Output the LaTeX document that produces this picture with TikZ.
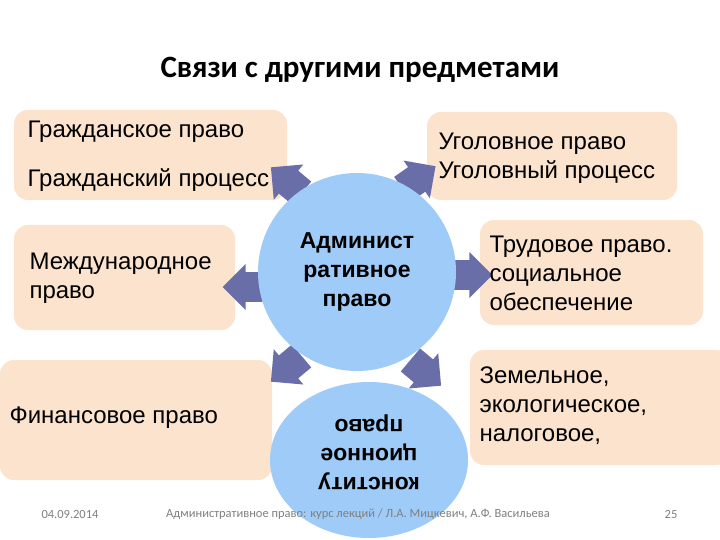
\documentclass[tikz,border=0pt]{standalone}
\usepackage{fontspec}
\setmainfont{Liberation Sans}
\newfontfamily\calib{Carlito}
\usetikzlibrary{shapes.arrows}
\definecolor{peach}{HTML}{FBE3CD}
\definecolor{circ}{HTML}{9ECBF7}
\definecolor{arr}{HTML}{6A6EA8}
\begin{document}
\begin{tikzpicture}[x=1pt,y=-1pt,
  box/.style={fill=peach,rounded corners=14pt,draw=none},
  txt/.style={font=\fontsize{24}{29}\selectfont,align=left,anchor=west},
  barrow/.style={single arrow,fill=arr,draw=none,minimum height=40pt,minimum width=46pt,single arrow head extend=6pt,inner sep=11pt}]
\useasboundingbox (0,0) rectangle (720,540);
\fill[white] (0,0) rectangle (720,540);
\node[font=\calib\bfseries\fontsize{31}{36}\selectfont] (title) at (360,70) {Связи с другими предметами};
% boxes
\fill[box] (14,110) rectangle (287,200);
\fill[box] (427,112) rectangle (677,200);
\fill[box] (14,225) rectangle (235,330);
\fill[box] (480,220) rectangle (703,325);
\fill[box] (0,360) rectangle (272,480);
\fill[box] (470,350) rectangle (730,465);
% arrows
\node[barrow,rotate=180] (a1) at (250,287) {};
\node[barrow] (a2) at (465,275) {};
\node[barrow,rotate=140] (a3) at (292,185) {};
\node[barrow,rotate=35] (a4) at (413,182) {};
\node[barrow,rotate=-140] (a5) at (292,364) {};
\node[barrow,rotate=-40] (a6) at (420,368) {};
\node[txt] (g1) at (24,132) {Гражданское право};
\node[txt] (g2) at (24,180) {Гражданский процесс};
\node[txt] (u) at (435,158) {Уголовное право\\Уголовный процесс};
\node[txt] (m) at (26,278) {Международное\\право};
\node[txt] (t) at (486,273) {Трудовое право.\\социальное\\обеспечение};
\node[txt] (f) at (6,418) {Финансовое право};
\node[txt] (z) at (476,406) {Земельное,\\экологическое,\\налоговое,};
% circles
\node[circle,fill=circ,minimum size=198pt,inner sep=0pt,align=center,
  font=\bfseries\fontsize{23}{29}\selectfont] (adm) at (357,272) {Админист\\ративное\\право};
\fill[circ] (369,460) ellipse [x radius=99,y radius=78];
\node[rotate=180,align=center,font=\bfseries\fontsize{23}{29}\selectfont] (k) at (369,452) {конститу\\ционное\\право};
% footer
\node[font=\calib\fontsize{12.5}{14}\selectfont,text=gray] (d) at (70,514) {04.09.2014};
\node[font=\calib\fontsize{12.5}{14}\selectfont,text=gray] (c) at (358,514) {Административное право: курс лекций / Л.А. Мицкевич, А.Ф. Васильева};
\node[font=\calib\fontsize{12.5}{14}\selectfont,text=gray] (n) at (671,514) {25};
\end{tikzpicture}
\end{document}
